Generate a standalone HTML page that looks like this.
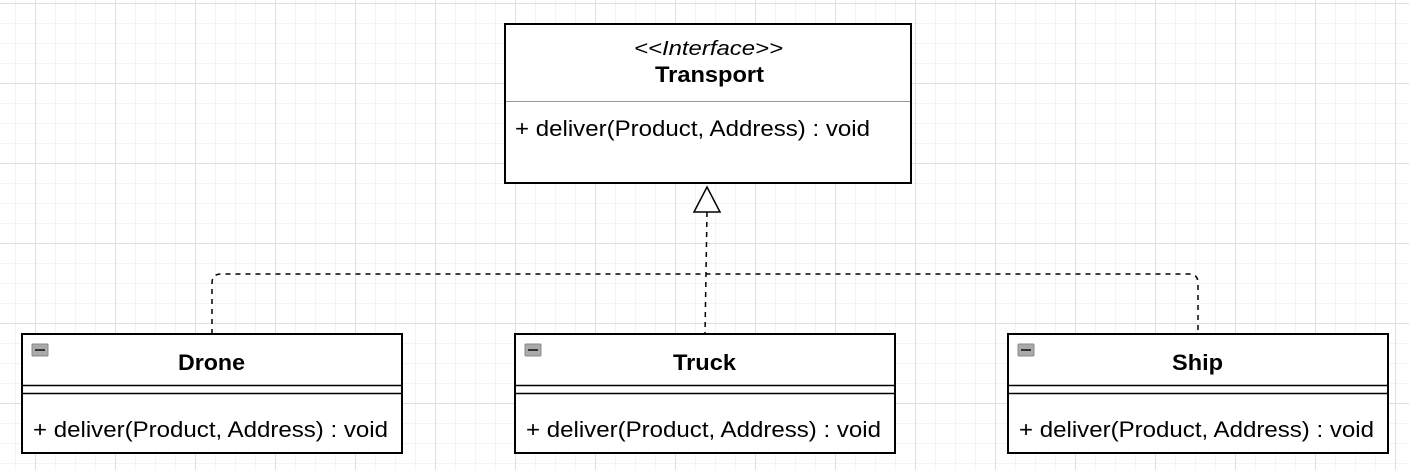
<!DOCTYPE html>
<html><head><meta charset="utf-8"><style>
html,body{margin:0;padding:0;background:#fff}
svg{display:block}
text{font-family:"Liberation Sans",Arial,sans-serif;fill:#000}
</style></head><body>
<svg width="1409" height="470" viewBox="0 0 1409 470" xmlns="http://www.w3.org/2000/svg">
<defs>
<pattern id="minor" width="20" height="20" patternUnits="userSpaceOnUse" x="15" y="3">
<path d="M0 0.5H20M0.5 0V20" stroke="#f4f4f4" stroke-width="1" fill="none"/>
</pattern>
<pattern id="major" width="80" height="80" patternUnits="userSpaceOnUse" x="35" y="3">
<path d="M0 0.5H80M0.5 0V80" stroke="#dedede" stroke-width="1" fill="none"/>
</pattern>
</defs>
<rect width="1409" height="470" fill="#fff"/>
<rect width="1409" height="470" fill="url(#minor)"/>
<rect width="1409" height="470" fill="url(#major)"/>

<g fill="none" stroke="#000" stroke-width="1.5" stroke-dasharray="5,5">
<path d="M212 334V283Q212 274 221 274H1189Q1198 274 1198 283V334"/>
<path d="M707 212L705 334"/>
</g>
<path d="M707 187L720 212H694Z" fill="#fff" stroke="#000" stroke-width="1.5"/>

<rect x="505" y="24" width="406" height="159" fill="#fff" stroke="#000" stroke-width="2"/>
<line x1="506" y1="101.5" x2="910" y2="101.5" stroke="#999" stroke-width="1"/>
<text x="634" y="55" font-size="20" font-style="italic" textLength="149" lengthAdjust="spacingAndGlyphs">&lt;&lt;Interface&gt;&gt;</text>
<text x="655" y="82" font-size="22" font-weight="bold" textLength="109" lengthAdjust="spacingAndGlyphs">Transport</text>
<text x="515" y="136" font-size="22" textLength="355" lengthAdjust="spacingAndGlyphs">+ deliver(Product, Address) : void</text>

<g>
<rect x="22" y="334" width="380" height="119" fill="#fff" stroke="#000" stroke-width="2"/>
<line x1="22" y1="385.5" x2="402" y2="385.5" stroke="#000" stroke-width="1.5"/>
<line x1="22" y1="393.5" x2="402" y2="393.5" stroke="#000" stroke-width="1.5"/>
<rect x="32" y="344" width="16" height="12" fill="#aaa" stroke="#888" stroke-width="1" rx="1"/>
<line x1="35" y1="350" x2="45" y2="350" stroke="#333" stroke-width="2"/>
<text x="178" y="370" font-size="22" font-weight="bold" textLength="67" lengthAdjust="spacingAndGlyphs">Drone</text>
<text x="33" y="437" font-size="22" textLength="355" lengthAdjust="spacingAndGlyphs">+ deliver(Product, Address) : void</text>
</g>
<g>
<rect x="515" y="334" width="380" height="119" fill="#fff" stroke="#000" stroke-width="2"/>
<line x1="515" y1="385.5" x2="895" y2="385.5" stroke="#000" stroke-width="1.5"/>
<line x1="515" y1="393.5" x2="895" y2="393.5" stroke="#000" stroke-width="1.5"/>
<rect x="525" y="344" width="16" height="12" fill="#aaa" stroke="#888" stroke-width="1" rx="1"/>
<line x1="528" y1="350" x2="538" y2="350" stroke="#333" stroke-width="2"/>
<text x="673" y="370" font-size="22" font-weight="bold" textLength="63" lengthAdjust="spacingAndGlyphs">Truck</text>
<text x="526" y="437" font-size="22" textLength="355" lengthAdjust="spacingAndGlyphs">+ deliver(Product, Address) : void</text>
</g>
<g>
<rect x="1008" y="334" width="380" height="119" fill="#fff" stroke="#000" stroke-width="2"/>
<line x1="1008" y1="385.5" x2="1388" y2="385.5" stroke="#000" stroke-width="1.5"/>
<line x1="1008" y1="393.5" x2="1388" y2="393.5" stroke="#000" stroke-width="1.5"/>
<rect x="1018" y="344" width="16" height="12" fill="#aaa" stroke="#888" stroke-width="1" rx="1"/>
<line x1="1021" y1="350" x2="1031" y2="350" stroke="#333" stroke-width="2"/>
<text x="1172" y="370" font-size="22" font-weight="bold" textLength="51" lengthAdjust="spacingAndGlyphs">Ship</text>
<text x="1019" y="437" font-size="22" textLength="355" lengthAdjust="spacingAndGlyphs">+ deliver(Product, Address) : void</text>
</g>
</svg>
</body></html>
